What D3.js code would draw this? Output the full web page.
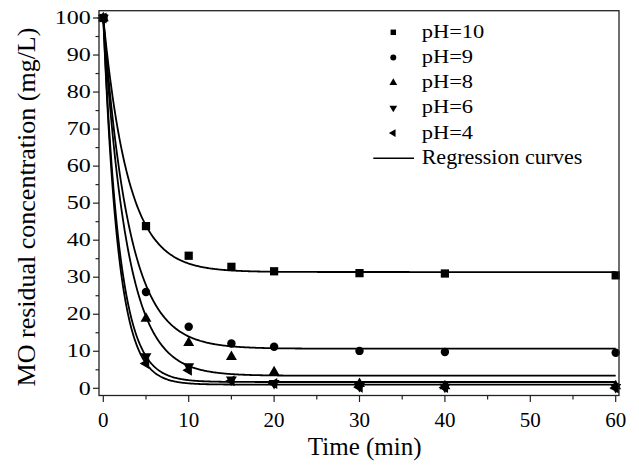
<!DOCTYPE html>
<html>
  <head>
    <meta charset="utf-8">
    <title>MO residual concentration</title>
    <script src="https://d3js.org/d3.v7.min.js"></script>
    <style>
      body { margin: 0; background: #fff; }
      svg text { font-family: "Liberation Serif", "Times New Roman", serif; fill: #000; }
    </style>
  </head>
  <body>
    <svg id="canvas" width="639" height="469"></svg>
    <script>
      // sampling times (min)
      var times = [0, 5, 10, 15, 20, 30, 40, 60];
      // measured residual concentration (mg/L)
      var ph10 = [100, 43.8, 35.8, 32.8, 31.6, 31.1, 31.0, 30.5];
      var ph9 = [100, 26.0, 16.6, 12.1, 11.2, 10.1, 9.8, 9.6];
      var ph8 = [100, 18.8, 12.3, 8.5, 4.4, 1.2, 0.6, 0.6];
      var ph6 = [100, 8.6, 5.9, 2.3, 1.4, 0.6, 0.4, 0.3];
      var ph4 = [100, 6.7, 4.9, 2.0, 1.3, 0.3, 0.2, 0.1];
      var seriesNames = ["pH=10", "pH=9", "pH=8", "pH=6", "pH=4"];
      // regression curves: C = Ce + (C0 - Ce) * exp(-k t)
      var regC0 = 100;
      var regCe = [31.4, 10.7, 3.4, 1.7, 1.0];
      var regK = [0.34, 0.33, 0.36, 0.53, 0.57];
      var xMajor = [0, 10, 20, 30, 40, 50, 60];
      var xMinor = [5, 15, 25, 35, 45, 55];
      var yMajor = [0, 10, 20, 30, 40, 50, 60, 70, 80, 90, 100];
      var yMinor = [5, 15, 25, 35, 45, 55, 65, 75, 85, 95];

      var allSeries = [ph10, ph9, ph8, ph6, ph4];
      var symbols = [
        {type: d3.symbolSquare, size: 68, rot: 0},
        {type: d3.symbolCircle, size: 56, rot: 0},
        {type: d3.symbolTriangle, size: 52, rot: 0},
        {type: d3.symbolTriangle, size: 52, rot: 180},
        {type: d3.symbolTriangle, size: 52, rot: -90}
      ];

      var frame = {left: 99, right: 619, top: 10.7, bottom: 395.5};
      var x = d3.scaleLinear().domain([0, 60]).range([103.3, 615.7]);
      var y = d3.scaleLinear().domain([0, 100]).range([388.3, 18]);

      var canvas = d3.select("#canvas");

      // regression curves
      var line = d3.line()
        .x(function(d) { return x(d[0]); })
        .y(function(d) { return y(d[1]); });
      var tSamples = d3.range(0, 60.001, 0.1);
      canvas.append("g")
          .attr("id", "curves")
        .selectAll("path")
          .data(regCe)
        .enter().append("path")
          .attr("d", function(ce, i) {
            return line(tSamples.map(function(t) {
              return [t, ce + (regC0 - ce) * Math.exp(-regK[i] * t)];
            }));
          })
          .attr("fill", "none")
          .attr("stroke", "#000")
          .attr("stroke-width", 1.8);

      // markers
      allSeries.forEach(function(values, i) {
        var sym = d3.symbol().type(symbols[i].type).size(symbols[i].size);
        canvas.append("g")
          .selectAll("path")
            .data(values)
          .enter().append("path")
            .attr("d", sym)
            .attr("transform", function(d, j) {
              return "translate(" + x(times[j]) + "," + y(d) + ") rotate(" + symbols[i].rot + ")";
            })
            .attr("fill", "#000");
      });

      // frame
      canvas.append("rect")
        .attr("x", frame.left)
        .attr("y", frame.top)
        .attr("width", frame.right - frame.left)
        .attr("height", frame.bottom - frame.top)
        .attr("fill", "none")
        .attr("stroke", "#222")
        .attr("stroke-width", 1.3);

      // y axis ticks
      var yAxis = canvas.append("g").attr("id", "yAxis");
      yAxis.selectAll(".major")
          .data(yMajor)
        .enter().append("line")
          .attr("x1", frame.left - 6).attr("x2", frame.left)
          .attr("y1", function(d) { return y(d); })
          .attr("y2", function(d) { return y(d); })
          .attr("stroke", "#222").attr("stroke-width", 1.2);
      yAxis.selectAll(".minor")
          .data(yMinor)
        .enter().append("line")
          .attr("x1", frame.left - 3.5).attr("x2", frame.left)
          .attr("y1", function(d) { return y(d); })
          .attr("y2", function(d) { return y(d); })
          .attr("stroke", "#222").attr("stroke-width", 1.2);
      yAxis.selectAll("text")
          .data(yMajor)
        .enter().append("text")
          .attr("transform", function(d) { return "translate(90.7," + (y(d) + 6.2) + ") scale(1.3,1)"; })
          .attr("text-anchor", "end")
          .style("font-size", "18.5px")
          .text(function(d) { return d; });

      // x axis ticks
      var xAxis = canvas.append("g").attr("id", "xAxis");
      xAxis.selectAll(".major")
          .data(xMajor)
        .enter().append("line")
          .attr("x1", function(d) { return x(d); })
          .attr("x2", function(d) { return x(d); })
          .attr("y1", frame.bottom).attr("y2", frame.bottom + 6.5)
          .attr("stroke", "#222").attr("stroke-width", 1.2);
      xAxis.selectAll(".minor")
          .data(xMinor)
        .enter().append("line")
          .attr("x1", function(d) { return x(d); })
          .attr("x2", function(d) { return x(d); })
          .attr("y1", frame.bottom).attr("y2", frame.bottom + 4)
          .attr("stroke", "#222").attr("stroke-width", 1.2);
      xAxis.selectAll("text")
          .data(xMajor)
        .enter().append("text")
          .attr("x", function(d) { return x(d); })
          .attr("y", 427)
          .attr("text-anchor", "middle")
          .style("font-size", "21px")
          .text(function(d) { return d; });

      // axis titles
      canvas.append("text")
        .attr("x", 364.7)
        .attr("y", 455)
        .attr("text-anchor", "middle")
        .style("font-size", "25px")
        .text("Time (min)");
      canvas.append("text")
        .attr("transform", "translate(35,207) rotate(-90)")
        .attr("text-anchor", "middle")
        .style("font-size", "26px")
        .text("MO residual concentration (mg/L)");

      // legend
      var legend = canvas.append("g").attr("id", "legend");
      var rowY = d3.scaleLinear().domain([0, 5]).range([32.3, 158.3]);
      var legendSymbols = [30, 28, 26, 26, 26];
      seriesNames.forEach(function(name, i) {
        legend.append("path")
          .attr("d", d3.symbol().type(symbols[i].type).size(legendSymbols[i]))
          .attr("transform", "translate(393.3," + rowY(i) + ") rotate(" + symbols[i].rot + ")")
          .attr("fill", "#000");
        legend.append("text")
          .attr("transform", "translate(421.7," + (rowY(i) + 5.5) + ") scale(1.25,1)")
          .style("font-size", "18px")
          .text(name);
      });
      legend.append("line")
        .attr("x1", 373.3).attr("x2", 414)
        .attr("y1", rowY(5)).attr("y2", rowY(5))
        .attr("stroke", "#000").attr("stroke-width", 1.6);
      legend.append("text")
        .attr("x", 421.7)
        .attr("y", rowY(5) + 6)
        .style("font-size", "22px")
        .text("Regression curves");
    </script>
  </body>
</html>
